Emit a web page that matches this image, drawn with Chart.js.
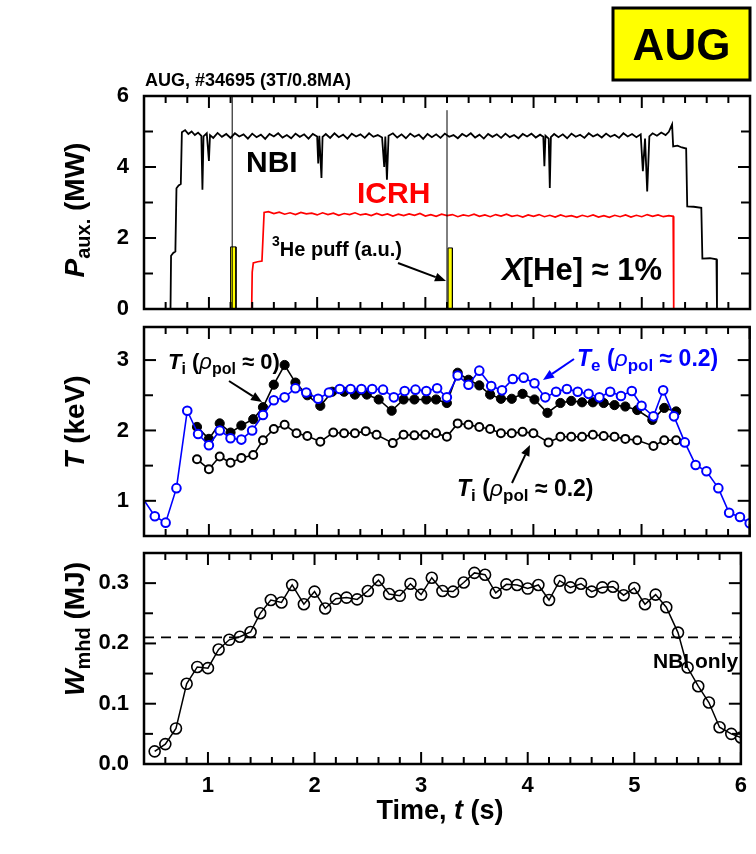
<!DOCTYPE html>
<html>
<head>
<meta charset="utf-8">
<title>AUG #34695</title>
<script src="https://cdn.jsdelivr.net/npm/chart.js@4.4.1/dist/chart.umd.min.js"></script>
<style>
  body { margin: 0; background: #fff; }
  .page { position: relative; width: 756px; height: 854px; }
  .page canvas { position: absolute; left: 0; top: 0; }
</style>
</head>
<body>
<div class="page">
  <canvas id="powerChart" width="756" height="854"></canvas>
  <canvas id="tempChart" width="756" height="854"></canvas>
  <canvas id="energyChart" width="756" height="854"></canvas>
</div>
<script>
const FONT = "'Liberation Sans', Arial, Helvetica, sans-serif";

// TICKS
const timeTicks = [1, 2, 3, 4, 5, 6];
const timeMinorTicks = [0.6, 0.8, 1.2, 1.4, 1.6, 1.8, 2.2, 2.4, 2.6, 2.8, 3.2, 3.4, 3.6, 3.8, 4.2, 4.4, 4.6, 4.8, 5.2, 5.4, 5.6, 5.8];
const powerTicks = [0, 2, 4, 6];
const powerMinorTicks = [1, 3, 5];
const tempTicks = [1, 2, 3];
const tempMinorTicks = [0.5, 1.5, 2.5];
const energyTicks = [0, 0.1, 0.2, 0.3];
const energyMinorTicks = [0.05, 0.15, 0.25];

// PANNELLO 1: potenza ausiliaria [t (s), P (MW)]
const nbiTrace = [
  [0.40, 0], [0.645, 0], [0.65, 1.50], [0.67, 1.58], [0.69, 1.62], [0.70, 3.40], [0.72, 3.48], [0.74, 3.52],
  [0.75, 4.98], [0.78, 5.04], [0.81, 4.93], [0.84, 5.00], [0.87, 4.90], [0.90, 4.97], [0.93, 4.88], [0.94, 3.36],
  [0.95, 4.86], [0.98, 4.95], [1.00, 4.17], [1.01, 4.90], [1.04, 4.82], [1.08, 4.96], [1.12, 4.85], [1.16, 4.93],
  [1.20, 4.82], [1.24, 4.95], [1.28, 4.86], [1.32, 4.92], [1.36, 4.80], [1.40, 4.94], [1.44, 4.84], [1.48, 4.91],
  [1.52, 4.79], [1.56, 4.93], [1.60, 4.86], [1.64, 4.95], [1.68, 4.83], [1.72, 4.90], [1.76, 4.81], [1.80, 4.94],
  [1.84, 4.85], [1.88, 4.92], [1.92, 4.80], [1.96, 4.93], [2.00, 4.86], [2.01, 4.10], [2.02, 4.88], [2.04, 3.69],
  [2.05, 4.85], [2.08, 4.93], [2.12, 4.82], [2.16, 4.95], [2.20, 4.84], [2.24, 4.91], [2.28, 4.80], [2.32, 4.94],
  [2.36, 4.86], [2.40, 4.92], [2.44, 4.82], [2.48, 4.95], [2.52, 4.85], [2.56, 4.90], [2.60, 4.83], [2.62, 4.00],
  [2.63, 4.86], [2.645, 3.64], [2.66, 4.88], [2.70, 4.95], [2.74, 4.83], [2.78, 4.92], [2.82, 4.81], [2.86, 4.94],
  [2.90, 4.85], [2.94, 4.91], [2.98, 4.79], [3.02, 4.93], [3.06, 4.84], [3.10, 4.92], [3.14, 4.82], [3.18, 4.94],
  [3.22, 4.85], [3.26, 4.90], [3.30, 4.81], [3.34, 4.93], [3.38, 4.86], [3.42, 4.95], [3.46, 4.83], [3.50, 4.91],
  [3.54, 4.80], [3.58, 4.93], [3.62, 4.85], [3.66, 4.92], [3.70, 4.82], [3.74, 4.94], [3.78, 4.84], [3.82, 4.90],
  [3.86, 4.81], [3.90, 4.93], [3.94, 4.86], [3.98, 4.94], [4.02, 4.83], [4.06, 4.91], [4.09, 4.85], [4.10, 4.02],
  [4.11, 4.88], [4.14, 4.80], [4.15, 3.41], [4.16, 4.84], [4.19, 4.93], [4.23, 4.84], [4.27, 4.92], [4.31, 4.81],
  [4.35, 4.94], [4.39, 4.85], [4.43, 4.91], [4.47, 4.82], [4.51, 4.95], [4.55, 4.86], [4.59, 4.92], [4.63, 4.83],
  [4.67, 4.94], [4.71, 4.85], [4.75, 4.91], [4.79, 4.82], [4.83, 4.95], [4.87, 4.86], [4.91, 4.93], [4.95, 4.84],
  [4.99, 4.92], [5.01, 3.88], [5.03, 4.80], [5.05, 3.31], [5.07, 4.86], [5.10, 4.95], [5.14, 4.88], [5.18, 4.97],
  [5.22, 4.90], [5.25, 4.99], [5.28, 5.20], [5.29, 4.58], [5.33, 4.60], [5.37, 4.55], [5.41, 4.52], [5.42, 2.89],
  [5.48, 2.88], [5.55, 2.85], [5.56, 1.42], [5.63, 1.43], [5.69, 1.40], [5.695, 0], [6.0, 0]
];
const icrhTrace = [
  [1.395, 0], [1.40, 1.04], [1.41, 1.30], [1.45, 1.33], [1.49, 1.35], [1.51, 2.72], [1.55, 2.74], [1.60, 2.69],
  [1.65, 2.73], [1.70, 2.67], [1.75, 2.71], [1.80, 2.66], [1.85, 2.72], [1.90, 2.68], [1.95, 2.70], [2.00, 2.65],
  [2.05, 2.71], [2.10, 2.66], [2.15, 2.70], [2.20, 2.64], [2.25, 2.69], [2.30, 2.66], [2.35, 2.71], [2.40, 2.65],
  [2.45, 2.68], [2.50, 2.63], [2.55, 2.69], [2.60, 2.64], [2.65, 2.68], [2.70, 2.62], [2.75, 2.67], [2.80, 2.63],
  [2.85, 2.68], [2.90, 2.64], [2.95, 2.69], [3.00, 2.62], [3.05, 2.66], [3.10, 2.61], [3.15, 2.67], [3.20, 2.63],
  [3.25, 2.66], [3.30, 2.60], [3.35, 2.65], [3.40, 2.62], [3.45, 2.67], [3.50, 2.61], [3.55, 2.65], [3.60, 2.60],
  [3.65, 2.66], [3.70, 2.62], [3.75, 2.67], [3.80, 2.61], [3.85, 2.64], [3.90, 2.59], [3.95, 2.65], [4.00, 2.61],
  [4.05, 2.66], [4.10, 2.60], [4.15, 2.64], [4.20, 2.59], [4.25, 2.65], [4.30, 2.60], [4.35, 2.63], [4.40, 2.58],
  [4.45, 2.64], [4.50, 2.60], [4.55, 2.65], [4.60, 2.59], [4.65, 2.63], [4.70, 2.58], [4.75, 2.64], [4.80, 2.60],
  [4.85, 2.65], [4.90, 2.59], [4.95, 2.64], [5.00, 2.60], [5.05, 2.66], [5.10, 2.61], [5.15, 2.65], [5.20, 2.60],
  [5.25, 2.63], [5.29, 2.61], [5.295, 0]
];
const puffFirst = [[1.20, 0], [1.20, 1.75], [1.25, 1.75], [1.25, 0]];
const puffSecond = [[3.21, 0], [3.21, 1.72], [3.25, 1.72], [3.25, 0]];
const puffMarkFirst = [[1.215, 0], [1.215, 6]];
const puffMarkSecond = [[3.20, 0], [3.20, 5.6]];

// PANNELLO 2: temperature (keV)
const teTime = [0.40, 0.50, 0.60, 0.70, 0.80, 0.90, 1.00, 1.10, 1.20, 1.30, 1.40, 1.50, 1.60, 1.70, 1.80, 1.90,
  2.01, 2.11, 2.21, 2.31, 2.41, 2.51, 2.61, 2.71, 2.81, 2.91, 3.01, 3.11,
  3.20, 3.30, 3.40, 3.50, 3.61, 3.71, 3.81, 3.91, 4.01, 4.11, 4.21, 4.31, 4.41, 4.51, 4.61, 4.71, 4.81, 4.91,
  5.00, 5.11, 5.20, 5.30, 5.40, 5.50, 5.60, 5.71, 5.81, 5.91, 6.00];
const teValue = [1.01, 0.78, 0.69, 1.18, 2.28, 1.95, 1.79, 2.00, 1.89, 1.87, 2.00, 2.22, 2.43, 2.47, 2.60, 2.54,
  2.45, 2.54, 2.59, 2.59, 2.59, 2.59, 2.58, 2.47, 2.56, 2.58, 2.56, 2.60,
  2.47, 2.78, 2.65, 2.85, 2.63, 2.57, 2.73, 2.75, 2.67, 2.47, 2.55, 2.59, 2.55, 2.52, 2.47, 2.55, 2.49, 2.56,
  2.35, 2.20, 2.57, 2.20, 1.83, 1.51, 1.42, 1.18, 0.83, 0.77, 0.68];
const tiCoreTime = [0.89, 1.00, 1.10, 1.20, 1.30, 1.41, 1.50, 1.60, 1.70, 1.80, 1.91,
  2.03, 2.14, 2.25, 2.35, 2.46, 2.57, 2.69, 2.80, 2.90, 3.01, 3.10,
  3.20, 3.30, 3.40, 3.50, 3.60, 3.70, 3.80, 3.90, 4.01, 4.13, 4.25, 4.35, 4.45, 4.55, 4.65, 4.75, 4.85, 4.96, 5.10, 5.21, 5.32];
const tiCoreValue = [2.05, 1.88, 2.10, 1.97, 2.07, 2.16, 2.33, 2.65, 2.93, 2.68, 2.50,
  2.35, 2.55, 2.55, 2.51, 2.51, 2.44, 2.28, 2.44, 2.44, 2.44, 2.44,
  2.39, 2.82, 2.72, 2.64, 2.51, 2.45, 2.45, 2.52, 2.44, 2.25, 2.39, 2.42, 2.40, 2.40, 2.39, 2.36, 2.34, 2.29, 2.15, 2.32, 2.27];
const tiEdgeTime = [0.89, 1.00, 1.10, 1.20, 1.30, 1.41, 1.50, 1.60, 1.70, 1.81, 1.91,
  2.03, 2.15, 2.25, 2.35, 2.45, 2.55, 2.70, 2.80, 2.90, 3.00, 3.10,
  3.20, 3.30, 3.40, 3.50, 3.60, 3.70, 3.80, 3.90, 4.00, 4.14, 4.25, 4.35, 4.45, 4.55, 4.65, 4.75, 4.85, 4.96, 5.11, 5.21, 5.32];
const tiEdgeValue = [1.59, 1.45, 1.63, 1.54, 1.61, 1.65, 1.86, 2.02, 2.08, 1.96, 1.92,
  1.84, 1.97, 1.96, 1.96, 1.99, 1.94, 1.82, 1.94, 1.93, 1.94, 1.96,
  1.91, 2.10, 2.08, 2.05, 2.02, 1.96, 1.96, 1.98, 1.96, 1.83, 1.91, 1.91, 1.91, 1.94, 1.92, 1.91, 1.88, 1.86, 1.78, 1.86, 1.86];

// PANNELLO 3: energia W_mhd (MJ)
const wTime = [0.50, 0.60, 0.70, 0.80, 0.90, 1.00, 1.10, 1.20, 1.30, 1.40, 1.49, 1.59, 1.69, 1.79, 1.90, 2.00, 2.10,
  2.20, 2.30, 2.40, 2.50, 2.60, 2.70, 2.80, 2.90, 3.00, 3.10,
  3.20, 3.30, 3.40, 3.50, 3.60, 3.70, 3.80, 3.90, 4.00, 4.10, 4.20, 4.30, 4.40, 4.50, 4.60, 4.70, 4.80, 4.90, 5.00,
  5.10, 5.20, 5.30, 5.41, 5.50, 5.60, 5.70, 5.80, 5.91, 6.00];
const wValue = [0.021, 0.033, 0.059, 0.133, 0.161, 0.159, 0.190, 0.206, 0.211, 0.219, 0.250, 0.272, 0.268, 0.297, 0.265, 0.286, 0.258,
  0.274, 0.276, 0.273, 0.287, 0.305, 0.282, 0.279, 0.299, 0.281, 0.309,
  0.287, 0.286, 0.301, 0.317, 0.314, 0.284, 0.298, 0.297, 0.291, 0.297, 0.272, 0.304, 0.293, 0.299, 0.286, 0.293, 0.294, 0.280, 0.292,
  0.265, 0.281, 0.260, 0.218, 0.160, 0.129, 0.102, 0.061, 0.050, 0.044];
const nbiOnlyLevel = [[0.4, 0.21], [6.0, 0.21]];

const pairsXY = pairs => pairs.map(([x, y]) => ({ x, y }));
const zipXY = (xs, ys) => xs.map((x, i) => ({ x, y: ys[i] }));

Chart.defaults.font.family = FONT;
Chart.defaults.color = '#000';

// TESTO CON PEDICI / CORSIVI
function richText(ctx, parts, x, y, align) {
  let width = 0;
  const measured = parts.map(p => {
    ctx.font = `${p.italic ? 'italic ' : ''}${p.weight || 'bold'} ${p.size}px ${FONT}`;
    const w = ctx.measureText(p.text).width;
    width += w;
    return { font: ctx.font, w };
  });
  let cx = align === 'center' ? x - width / 2 : x;
  ctx.textBaseline = 'alphabetic';
  ctx.textAlign = 'left';
  parts.forEach((p, i) => {
    ctx.font = measured[i].font;
    ctx.fillStyle = p.color || '#000';
    ctx.fillText(p.text, cx, y + (p.dy || 0));
    cx += measured[i].w;
  });
}

function arrow(ctx, x1, y1, x2, y2, color) {
  const a = Math.atan2(y2 - y1, x2 - x1), head = 11, half = 4.5;
  const bx = x2 - head * Math.cos(a), by = y2 - head * Math.sin(a);
  ctx.strokeStyle = color; ctx.fillStyle = color; ctx.lineWidth = 2;
  ctx.beginPath(); ctx.moveTo(x1, y1); ctx.lineTo(bx, by); ctx.stroke();
  ctx.beginPath();
  ctx.moveTo(x2, y2);
  ctx.lineTo(bx + half * Math.sin(a), by - half * Math.cos(a));
  ctx.lineTo(bx - half * Math.sin(a), by + half * Math.cos(a));
  ctx.closePath(); ctx.fill();
}

function yTitle(ctx, parts, x, y) {
  ctx.save();
  ctx.translate(x, y);
  ctx.rotate(-Math.PI / 2);
  richText(ctx, parts, 0, 0, 'center');
  ctx.restore();
}

// CORNICE E TACCHE INTERNE
function drawFrame(chart, yMajor, yMinor) {
  const { ctx, chartArea: a, scales: { x, y } } = chart;
  const line = (x1, y1, x2, y2) => { ctx.beginPath(); ctx.moveTo(x1, y1); ctx.lineTo(x2, y2); ctx.stroke(); };
  ctx.save();
  ctx.strokeStyle = '#000';
  ctx.lineWidth = 2;
  timeTicks.forEach(v => { const p = x.getPixelForValue(v); line(p, a.bottom, p, a.bottom - 12); line(p, a.top, p, a.top + 12); });
  timeMinorTicks.forEach(v => { const p = x.getPixelForValue(v); line(p, a.bottom, p, a.bottom - 7); line(p, a.top, p, a.top + 7); });
  yMajor.forEach(v => { const p = y.getPixelForValue(v); line(a.left, p, a.left + 12, p); line(a.right, p, a.right - 12, p); });
  yMinor.forEach(v => { const p = y.getPixelForValue(v); line(a.left, p, a.left + 9, p); line(a.right, p, a.right - 9, p); });
  ctx.lineWidth = 2.5;
  ctx.strokeRect(a.left, a.top, a.right - a.left, a.bottom - a.top);
  ctx.restore();
}

function panelOptions(yMin, yMax, yTicks, digits, padTop, padBottom, showTime) {
  const tickFont = { size: 22, weight: 'bold', family: FONT };
  return {
    responsive: false,
    animation: false,
    events: [],
    layout: { padding: { top: padTop, bottom: padBottom, left: 0, right: 6 } },
    plugins: { legend: { display: false }, tooltip: { enabled: false } },
    scales: {
      x: {
        type: 'linear', min: 0.4, max: 6, display: showTime,
        grid: { display: false, drawTicks: false }, border: { display: false },
        afterBuildTicks: s => { s.ticks = timeTicks.map(v => ({ value: v })); },
        afterFit: s => { s.height = showTime ? 90 : 0; },
        ticks: { padding: 9, font: tickFont, color: '#000', maxRotation: 0, autoSkip: false, callback: v => String(v) }
      },
      y: {
        type: 'linear', min: yMin, max: yMax,
        grid: { display: false, drawTicks: false }, border: { display: false },
        afterBuildTicks: s => { s.ticks = yTicks.map(v => ({ value: v })); },
        afterFit: s => { s.width = 144; },
        ticks: { padding: 15, font: tickFont, color: '#000', autoSkip: false, callback: v => Number(v).toFixed(digits) }
      }
    }
  };
}

const traceStyle = { pointRadius: 0, borderWidth: 1.5, fill: false, tension: 0 };

// GRAFICO 1
new Chart(document.getElementById('powerChart'), {
  type: 'line',
  data: {
    datasets: [
      { data: pairsXY(puffMarkFirst), borderColor: '#000', ...traceStyle, borderWidth: 1 },
      { data: pairsXY(puffMarkSecond), borderColor: '#000', ...traceStyle, borderWidth: 1 },
      { data: pairsXY(puffFirst), borderColor: '#000', backgroundColor: '#ffff00', ...traceStyle, borderWidth: 1, fill: 'origin' },
      { data: pairsXY(puffSecond), borderColor: '#000', backgroundColor: '#ffff00', ...traceStyle, borderWidth: 1, fill: 'origin' },
      { data: pairsXY(nbiTrace), borderColor: '#000', ...traceStyle, borderWidth: 1.8 },
      { data: pairsXY(icrhTrace), borderColor: '#ff0000', ...traceStyle, borderWidth: 1.7 }
    ]
  },
  options: panelOptions(0, 6, powerTicks, 0, 96, 545, false),
  plugins: [{
    id: 'powerDecor',
    afterDraw(chart) {
      const ctx = chart.ctx;
      drawFrame(chart, powerTicks, powerMinorTicks);
      ctx.save();
      // titolo e riquadro AUG
      richText(ctx, [{ text: 'AUG, #34695 (3T/0.8MA)', size: 18 }], 145, 86, 'left');
      ctx.fillStyle = '#ffff00';
      ctx.fillRect(613, 8, 137, 72);
      ctx.strokeStyle = '#000'; ctx.lineWidth = 3;
      ctx.strokeRect(613, 8, 137, 72);
      richText(ctx, [{ text: 'AUG', size: 44 }], 681.5, 60, 'center');
      richText(ctx, [{ text: 'NBI', size: 30 }], 246, 172, 'left');
      richText(ctx, [{ text: 'ICRH', size: 30, color: '#ff0000' }], 357, 203, 'left');
      richText(ctx, [{ text: '3', size: 14, dy: -10 }, { text: 'He puff (a.u.)', size: 20 }], 272, 256, 'left');
      richText(ctx, [{ text: 'X', size: 31, italic: true }, { text: '[He] \u2248 1%', size: 31 }], 502, 280, 'left');
      arrow(ctx, 398, 263, 446, 281, '#000');
      yTitle(ctx, [{ text: 'P', size: 28, italic: true }, { text: 'aux.', size: 20, dy: 6 }, { text: ' (MW)', size: 28 }], 84, 210);
      ctx.restore();
    }
  }]
});

// GRAFICO 2
new Chart(document.getElementById('tempChart'), {
  type: 'line',
  data: {
    datasets: [
      { data: zipXY(teTime, teValue), borderColor: '#0000ff', borderWidth: 1.6, tension: 0, fill: false,
        pointRadius: c => (c.dataIndex === 0 ? 0 : 4.3), pointBorderWidth: 2, pointBorderColor: '#0000ff', pointBackgroundColor: '#fff' },
      { data: zipXY(tiCoreTime, tiCoreValue), borderColor: '#000', borderWidth: 1.6, tension: 0, fill: false,
        pointRadius: 4.6, pointBorderWidth: 1, pointBorderColor: '#000', pointBackgroundColor: '#000' },
      { data: zipXY(tiEdgeTime, tiEdgeValue), borderColor: '#000', borderWidth: 1.6, tension: 0, fill: false,
        pointRadius: 4, pointBorderWidth: 2, pointBorderColor: '#000', pointBackgroundColor: '#fff' }
    ]
  },
  options: panelOptions(0.5, 3.47, tempTicks, 0, 327, 318, false),
  plugins: [{
    id: 'tempDecor',
    afterDraw(chart) {
      const ctx = chart.ctx;
      drawFrame(chart, tempTicks, tempMinorTicks);
      ctx.save();
      const label = (sub, val, color, size) => [
        { text: 'T', size, italic: true, color }, { text: sub, size: size - 6, dy: 5, color },
        { text: ' (', size, color }, { text: '\u03c1', size, italic: true, weight: 'normal', color },
        { text: 'pol', size: size - 6, dy: 5, color }, { text: ' \u2248 ' + val + ')', size, color }
      ];
      richText(ctx, label('i', '0', '#000', 22), 168, 369, 'left');
      arrow(ctx, 229, 381, 262, 402, '#000');
      richText(ctx, label('e', '0.2', '#0000ff', 23), 577, 366, 'left');
      arrow(ctx, 574, 359, 543, 380, '#0000ff');
      richText(ctx, label('i', '0.2', '#000', 23), 457, 496, 'left');
      arrow(ctx, 512, 483, 530, 445, '#000');
      yTitle(ctx, [{ text: 'T', size: 28, italic: true }, { text: ' (keV)', size: 28 }], 84, 422);
      ctx.restore();
    }
  }]
});

// GRAFICO 3
new Chart(document.getElementById('energyChart'), {
  type: 'line',
  data: {
    datasets: [
      { data: zipXY(wTime, wValue), borderColor: '#000', borderWidth: 1.5, tension: 0, fill: false,
        pointRadius: 5.5, pointBorderWidth: 1.6, pointBorderColor: '#000', pointBackgroundColor: 'rgba(0,0,0,0)' },
      { data: pairsXY(nbiOnlyLevel), borderColor: '#000', borderWidth: 1.8, borderDash: [10, 7], pointRadius: 0, fill: false }
    ]
  },
  options: panelOptions(0, 0.35, energyTicks, 1, 553, 0, true),
  plugins: [{
    id: 'energyDecor',
    afterDraw(chart) {
      const ctx = chart.ctx;
      drawFrame(chart, energyTicks, energyMinorTicks);
      ctx.save();
      richText(ctx, [{ text: 'NBI only', size: 21 }], 653, 668, 'left');
      yTitle(ctx, [{ text: 'W', size: 28, italic: true }, { text: 'mhd', size: 20, dy: 6 }, { text: ' (MJ)', size: 28 }], 84, 629);
      richText(ctx, [{ text: 'Time, ', size: 27 }, { text: 't', size: 27, italic: true }, { text: ' (s)', size: 27 }], 440, 819, 'center');
      ctx.restore();
    }
  }]
});
</script>
</body>
</html>
